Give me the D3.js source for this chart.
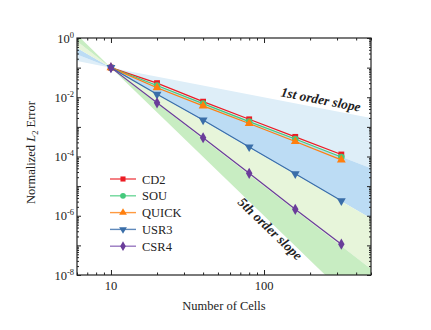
<!DOCTYPE html>
<html>
<head>
<meta charset="utf-8">
<script src="https://cdn.jsdelivr.net/npm/d3@7"></script>
<style>
body { margin: 0; background: #fff; }
svg text { font-family: "Liberation Serif", "Times New Roman", serif; fill: #222; }
</style>
</head>
<body>
<svg id="chart" width="431" height="330"></svg>
<script>
// Values
const cells = [10, 20, 40, 80, 160, 320];
const cd2 = [0.1, 0.030, 0.0071, 0.0018, 4.6e-4, 1.17e-4];
const sou = [0.1, 0.025, 0.0061, 0.0015, 3.9e-4, 9.6e-5];
const quick = [0.1, 0.021, 0.0051, 0.0013, 3.2e-4, 7.7e-5];
const usr3 = [0.1, 0.0126, 0.0017, 2.1e-4, 2.6e-5, 3.2e-6];
const csr4 = [0.1, 0.0065, 4.3e-4, 2.7e-5, 1.65e-6, 1.1e-7];
const seriesNames = ["CD2", "SOU", "QUICK", "USR3", "CSR4"];
const seriesValues = [cd2, sou, quick, usr3, csr4];
const seriesColors = ["#ec1c24", "#45c97c", "#ff7f0e", "#3a6ea8", "#6a3d9a"];
const legendColors = ["#f04a50", "#6fd79a", "#ff9a40", "#5f89bb", "#9878c0"];
const seriesSymbols = [d3.symbolSquare, d3.symbolCircle, d3.symbolTriangle, d3.symbolTriangle, d3.symbolDiamond];
const yTickExps = [0, -2, -4, -6, -8];
const xTickLabels = [10, 100];
// slope bands: [order a, order b]
const bandOrders = [[1, 2], [2, 3], [3, 4], [4, 5]];
const bandColors = ["#deeef8", "#bcdcf4", "#e7f5da", "#c8edc2"];
const refN = 10, refErr = 0.1;

const svg = d3.select("svg#chart");
const margin = { top: 38, right: 60, bottom: 55, left: 77 };
const width = +svg.attr("width");
const height = +svg.attr("height");
const x0 = margin.left, x1 = width - margin.right;
const y0 = margin.top, y1 = height - margin.bottom;

const x = d3.scaleLog([6, 500], [x0, x1]);
const y = d3.scaleLog([1e-8, 1], [y1, y0]);

svg.append("defs").append("clipPath").attr("id", "plotclip")
	.append("rect").attr("x", x0).attr("y", y0).attr("width", x1 - x0).attr("height", y1 - y0);

const plot = svg.append("g").attr("clip-path", "url(#plotclip)");

// Slope bands, fanning out from the reference point
const slopeAt = (p, n) => refErr * Math.pow(n / refN, -p);
const [nMin, nMax] = x.domain();
const bandLine = d3.line().x((d) => x(d[0])).y((d) => y(d[1]));
plot.selectAll("path.band")
	.data(bandOrders)
	.join("path")
	.attr("class", "band")
	.attr("fill", (d, i) => bandColors[i])
	.attr("d", ([a, b]) => bandLine([
		[nMin, slopeAt(a, nMin)], [refN, refErr], [nMax, slopeAt(a, nMax)],
		[nMax, slopeAt(b, nMax)], [refN, refErr], [nMin, slopeAt(b, nMin)]
	]) + "Z");

// Series lines and markers
const line = d3.line().x((d) => x(d[0])).y((d) => y(d[1]));
seriesValues.forEach((vals, i) => {
	const pts = cells.map((c, j) => [c, vals[j]]);
	plot.append("path")
		.attr("d", line(pts))
		.attr("fill", "none")
		.attr("stroke", seriesColors[i])
		.attr("stroke-width", 1.2);
	plot.selectAll(null)
		.data(pts)
		.join("path")
		.attr("transform", (d) => `translate(${x(d[0])},${y(d[1])})` + (i === 3 ? " rotate(180)" : ""))
		.attr("d", d3.symbol(seriesSymbols[i], i === 4 ? 36 : 34))
		.attr("fill", seriesColors[i]);
});

// Slope annotations
const ann = svg.append("g").attr("font-weight", "bold").attr("font-style", "italic").attr("font-size", 13.5);
ann.append("text")
	.attr("text-anchor", "middle")
	.attr("transform", "translate(320,104) rotate(11)")
	.text("1st order slope");
ann.append("text")
	.attr("text-anchor", "middle")
	.attr("transform", "translate(267,232) rotate(44)")
	.text("5th order slope");

// Axes with inward ticks on all four sides
const xMajor = [10, 100];
const xMinor = [6, 7, 8, 9, 20, 30, 40, 50, 60, 70, 80, 90, 200, 300, 400, 500];
const yMajor = d3.range(-8, 1).map((e) => Math.pow(10, e));
const yMinor = [];
for (let e = -8; e < 0; e++) for (let k = 2; k <= 9; k++) yMinor.push(k * Math.pow(10, e));

const axes = svg.append("g").attr("class", "axes");
const addAxis = (gen, transform, vals, size) => {
	axes.append("g")
		.attr("transform", transform)
		.call(gen.tickValues(vals).tickSize(size).tickFormat(""))
		.call((g) => g.select(".domain").remove())
		.selectAll("line").attr("stroke", "#222");
};
addAxis(d3.axisBottom(x), `translate(0,${y1})`, xMajor, -5);
addAxis(d3.axisBottom(x), `translate(0,${y1})`, xMinor, -2.5);
addAxis(d3.axisTop(x), `translate(0,${y0})`, xMajor, -5);
addAxis(d3.axisTop(x), `translate(0,${y0})`, xMinor, -2.5);
addAxis(d3.axisLeft(y), `translate(${x0},0)`, yMajor, -4);
addAxis(d3.axisLeft(y), `translate(${x0},0)`, yMinor, -2);
addAxis(d3.axisRight(y), `translate(${x1},0)`, yMajor, -4);
addAxis(d3.axisRight(y), `translate(${x1},0)`, yMinor, -2);

axes.append("rect")
	.attr("x", x0).attr("y", y0)
	.attr("width", x1 - x0).attr("height", y1 - y0)
	.attr("fill", "none").attr("stroke", "#222").attr("stroke-width", 1.2);

// Tick labels
svg.selectAll("text.xtick")
	.data(xTickLabels)
	.join("text")
	.attr("class", "xtick")
	.attr("x", (d) => x(d))
	.attr("y", y1 + 15)
	.attr("text-anchor", "middle")
	.attr("font-size", 12.5)
	.text((d) => d);

const yt = svg.selectAll("text.ytick")
	.data(yTickExps)
	.join("text")
	.attr("class", "ytick")
	.attr("x", x0 - 3)
	.attr("y", (d) => y(Math.pow(10, d)) + 4.5)
	.attr("text-anchor", "end")
	.attr("font-size", 12.5);
yt.append("tspan").text("10");
yt.append("tspan").attr("dy", -5).attr("font-size", 8.5).text((d) => d);

// Axis titles
svg.append("text")
	.attr("x", (x0 + x1) / 2)
	.attr("y", 310)
	.attr("text-anchor", "middle")
	.attr("font-size", 12.5)
	.text("Number of Cells");

const yl = svg.append("text")
	.attr("transform", `translate(35,${(y0 + y1) / 2 - 4}) rotate(-90)`)
	.attr("text-anchor", "middle")
	.attr("font-size", 12.5);
yl.append("tspan").text("Normalized ");
yl.append("tspan").attr("font-style", "italic").text("L");
yl.append("tspan").attr("dy", 3).attr("font-size", 8.5).text("2");
yl.append("tspan").attr("dy", -3).text(" Error");

// Legend
const legend = svg.append("g").attr("transform", "translate(110,179)");
const rows = legend.selectAll("g")
	.data(seriesNames)
	.join("g")
	.attr("transform", (d, i) => `translate(0,${i * 16.8})`);
rows.append("line")
	.attr("x1", 0).attr("x2", 26)
	.attr("stroke", (d, i) => legendColors[i])
	.attr("stroke-width", 1.4);
rows.append("path")
	.attr("transform", (d, i) => "translate(13,0)" + (i === 3 ? " rotate(180)" : ""))
	.attr("d", (d, i) => d3.symbol(seriesSymbols[i], i === 4 ? 28 : 26)())
	.attr("fill", (d, i) => seriesColors[i]);
rows.append("text")
	.attr("x", 32)
	.attr("y", 4.5)
	.attr("font-size", 12.5)
	.text((d) => d);
</script>
</body>
</html>
